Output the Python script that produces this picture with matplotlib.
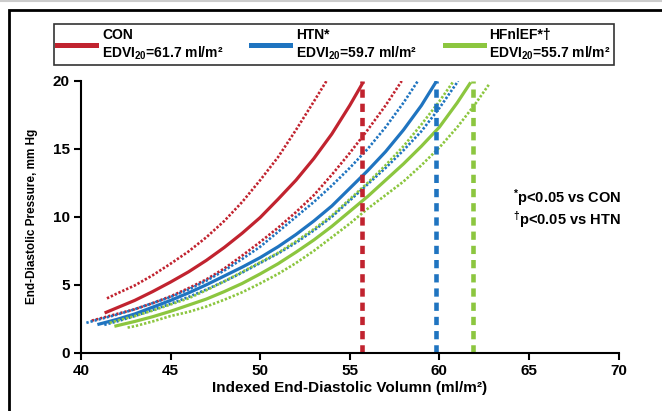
import matplotlib
matplotlib.use('Agg')
import matplotlib.pyplot as plt
from matplotlib.lines import Line2D
from matplotlib.patches import Rectangle

plt.rcParams['font.family'] = ['Liberation Sans', 'DejaVu Sans']
plt.rcParams['font.weight'] = 'bold'
plt.rcParams['mathtext.fontset'] = 'custom'
plt.rcParams['mathtext.rm'] = 'Liberation Sans:bold'
plt.rcParams['mathtext.it'] = 'Liberation Sans:bold'
plt.rcParams['mathtext.bf'] = 'Liberation Sans:bold'

RED = '#C1232F'
BLUE = '#1F74C0'
GREEN = '#8CC63F'

# CON (red)
con_v = [41.4, 42, 43, 44, 45, 46, 47, 48, 49, 50, 51, 52, 53, 54, 55, 55.7]
con_p = [2.97, 3.3, 3.85, 4.5, 5.2, 5.95, 6.8, 7.75, 8.8, 9.95, 11.3, 12.7, 14.3, 16.1, 18.2, 19.8]
con_hi_v = [41.45, 42, 43, 44, 45, 46, 47, 48, 49, 50, 51, 52, 53, 53.7]
con_hi_p = [4.0, 4.35, 4.95, 5.7, 6.55, 7.45, 8.5, 9.7, 11.1, 12.7, 14.4, 16.4, 18.5, 20]
con_lo_v = [40.6, 41, 42, 43, 44, 45, 46, 47, 48, 49, 50, 51, 52, 53, 54, 55, 56, 57, 57.9]
con_lo_p = [2.36, 2.5, 2.85, 3.2, 3.65, 4.15, 4.75, 5.4, 6.2, 7.15, 8.15, 9.2, 10.35, 11.6, 13.1, 14.7, 16.4, 18.2, 20]

# HTN (blue)
htn_v = [41.0, 42, 43, 44, 45, 46, 47, 48, 49, 50, 51, 52, 53, 54, 55, 56, 57, 58, 59, 59.8]
htn_p = [2.1, 2.45, 2.85, 3.35, 3.85, 4.4, 5.0, 5.65, 6.3, 7.0, 7.8, 8.7, 9.7, 10.8, 12.1, 13.4, 14.8, 16.4, 18.2, 19.9]
htn_hi_v = [40.3, 41, 42, 43, 44, 45, 46, 47, 48, 49, 50, 51, 52, 53, 54, 55, 56, 57, 58, 58.8]
htn_hi_p = [2.2, 2.45, 2.8, 3.2, 3.65, 4.1, 4.65, 5.3, 6.05, 6.9, 7.8, 8.9, 10.0, 11.1, 12.3, 13.6, 15.0, 16.6, 18.4, 20]
htn_lo_v = [41.3, 42, 43, 44, 45, 46, 47, 48, 49, 50, 51, 52, 53, 54, 55, 56, 57, 58, 59, 60, 61.05]
htn_lo_p = [2.05, 2.3, 2.7, 3.15, 3.6, 4.1, 4.65, 5.25, 5.9, 6.6, 7.3, 8.1, 9.0, 10.0, 11.2, 12.4, 13.6, 14.9, 16.3, 18.0, 20]

# HFnlEF (green)
hf_v = [41.95, 43, 44, 45, 46, 47, 48, 49, 50, 51, 52, 53, 54, 55, 56, 57, 58, 59, 60, 61, 61.7]
hf_p = [1.97, 2.3, 2.65, 3.05, 3.5, 3.95, 4.5, 5.1, 5.8, 6.55, 7.4, 8.3, 9.3, 10.4, 11.5, 12.7, 13.9, 15.2, 16.6, 18.4, 19.8]
hf_hi_v = [41.6, 42, 43, 44, 45, 46, 47, 48, 49, 50, 51, 52, 53, 54, 55, 56, 57, 58, 59, 60, 60.8]
hf_hi_p = [2.2, 2.35, 2.7, 3.1, 3.55, 4.0, 4.6, 5.25, 5.95, 6.65, 7.35, 8.2, 9.1, 10.1, 11.3, 12.5, 13.8, 15.2, 16.8, 18.5, 20]
hf_lo_v = [42.6, 43, 44, 45, 46, 47, 48, 49, 50, 51, 52, 53, 54, 55, 56, 57, 58, 59, 60, 61, 62, 62.8]
hf_lo_p = [1.85, 1.95, 2.3, 2.7, 3.0, 3.4, 3.9, 4.45, 5.1, 5.8, 6.6, 7.5, 8.5, 9.5, 10.6, 11.6, 12.6, 13.8, 15.1, 16.6, 18.3, 19.8]

# EDVI20 markers
edvi_x = [55.7, 59.8, 61.9]
edvi_colors = [RED, BLUE, GREEN]

legend_labels = ['CON\nEDVI$_{\\mathrm{20}}$=61.7 ml/m\u00b2',
                 'HTN*\nEDVI$_{\\mathrm{20}}$=59.7 ml/m\u00b2',
                 'HFnlEF*\u2020\nEDVI$_{\\mathrm{20}}$=55.7 ml/m\u00b2']

fig = plt.figure(figsize=(6.62, 4.11), dpi=100)
ax = fig.add_axes([81/662, 1 - 352.7/411, (618.5 - 81)/662, (352.7 - 81)/411])

dot = (0, (0.9, 0.7))
groups = [
    (con_v, con_p, con_hi_v, con_hi_p, con_lo_v, con_lo_p, RED),
    (htn_v, htn_p, htn_hi_v, htn_hi_p, htn_lo_v, htn_lo_p, BLUE),
    (hf_v, hf_p, hf_hi_v, hf_hi_p, hf_lo_v, hf_lo_p, GREEN),
]
for v, p, vh, ph, vl, pl, c in groups:
    ax.plot(vh, ph, color=c, lw=1.9, linestyle=dot)
    ax.plot(vl, pl, color=c, lw=1.9, linestyle=dot)
    ax.plot(v, p, color=c, lw=2.3, solid_joinstyle='round')

for x, c in zip(edvi_x, edvi_colors):
    ax.plot([x, x], [0, 20], color=c, lw=3.3, linestyle=(0, (1.8, 1.3)))

ax.set_xlim(40, 70)
ax.set_ylim(0, 20)
ax.set_xticks([40, 45, 50, 55, 60, 65, 70])
ax.set_yticks([0, 5, 10, 15, 20])
for s in ['top', 'right']:
    ax.spines[s].set_visible(False)
for s in ['left', 'bottom']:
    ax.spines[s].set_linewidth(1.5)
ax.tick_params(direction='out', length=5, width=1.5, labelsize=11, pad=3)
ax.set_xlabel('Indexed End-Diastolic Volumn (ml/m\u00b2)', fontsize=11, fontweight='bold', labelpad=2)
ax.set_ylabel('End-Diastolic Pressure, mm Hg', fontsize=8.5, fontweight='bold', labelpad=11)

ax.text(64.1, 10.6, '$^{*}$p<0.05 vs CON\n$^{\u2020}$p<0.05 vs HTN', fontsize=10.5,
        fontweight='bold', va='center', linespacing=1.05)

handles = [Line2D([], [], color=c, lw=3.6) for c in edvi_colors]
leg = fig.legend(handles, legend_labels, ncol=3, loc='lower left',
                 bbox_to_anchor=(54/662, 1 - 65/411, 560/662, 40/411), mode='expand',
                 prop={'weight': 'bold', 'size': 10}, frameon=True, fancybox=False,
                 handlelength=2.8, handletextpad=0.4, borderaxespad=0, borderpad=0.25,
                 labelspacing=0.2)
leg.get_frame().set_edgecolor('black')
leg.get_frame().set_linewidth(1.2)

# outer frame
fig.patches.append(Rectangle((9/662, -0.1), 1.2, 1.1 - 10/411, transform=fig.transFigure,
                             fill=False, edgecolor='black', lw=2.0, clip_on=False))
fig.lines.append(Line2D([0, 1], [1 - 1/411, 1 - 1/411], transform=fig.transFigure,
                        color='#cccccc', lw=1.5))

fig.savefig('out.png', dpi=100)
